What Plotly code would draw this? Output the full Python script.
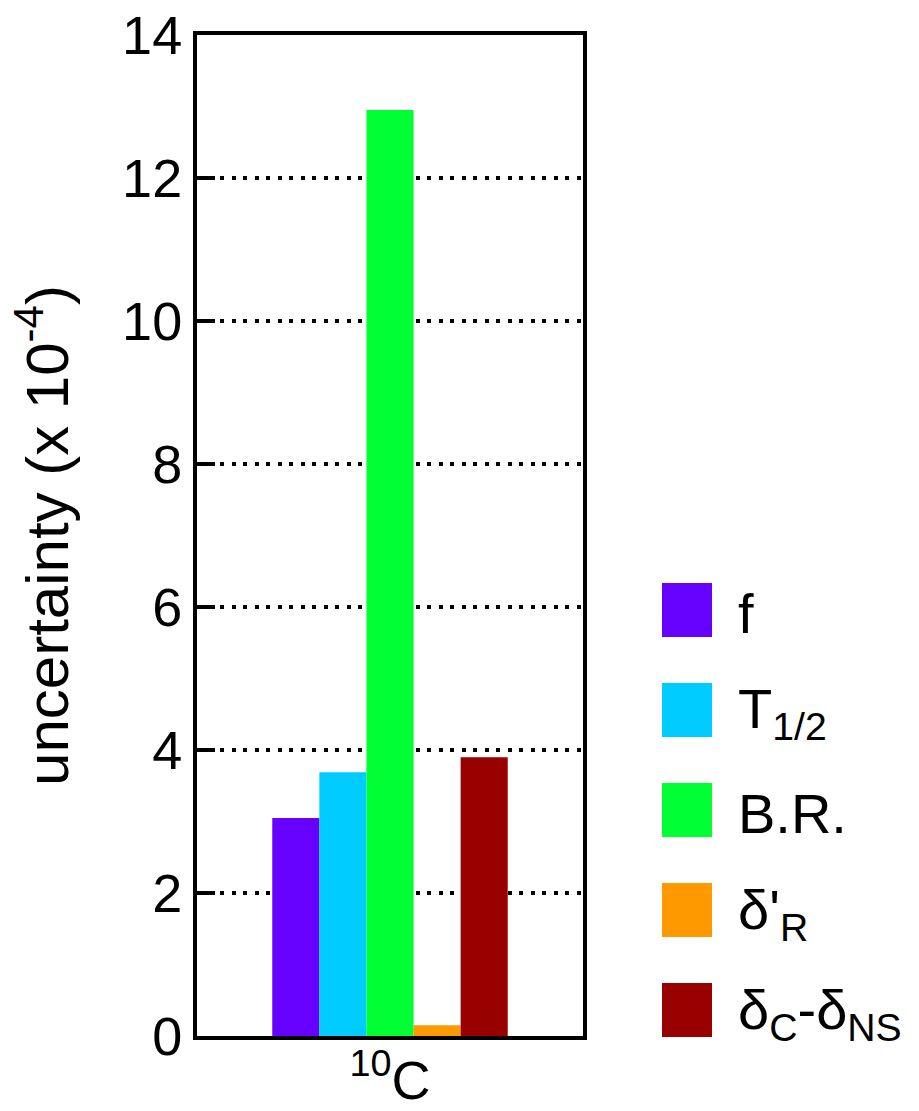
import plotly.graph_objects as go

# ---- data ----
category = ["<sup>10</sup>C"]
series_names = ["f", "T<sub>1/2</sub>", "B.R.", "δ'<sub>R</sub>", "δ<sub>C</sub>-δ<sub>NS</sub>"]
series_values = [3.05, 3.69, 12.95, 0.15, 3.9]
series_colors = ["#6600ff", "#00ccff", "#00ff33", "#ff9900", "#990000"]
y_ticks = [0, 2, 4, 6, 8, 10, 12, 14]
y_title = "uncertainty (x 10<sup>-4</sup>)"

# ---- layout geometry ----
# body margin is removed by the post_script, so figure coordinates = screen coordinates
OFF = 0
W, H = 919 - OFF, 1111 - OFF
PL, PR, PT, PB = 197, 583, 35, 1036          # plot area edges in screen pixels
L, R, T, B = PL - OFF, W - (PR - OFF), PT - OFF, H - (PB - OFF)
PW, PH = W - L - R, H - T - B
FONT = "Liberation Sans, Arial, Helvetica, sans-serif"


def px_x(sx):
    return (sx - OFF - L) / PW


def px_y(sy):
    return (H - B - (sy - OFF)) / PH


fig = go.Figure()
for name, val, col in zip(series_names, series_values, series_colors):
    fig.add_trace(go.Bar(x=category, y=[val], name=name, marker_color=col,
                         marker_line_width=0, showlegend=False))

# manual legend with large square swatches
shapes = []
annotations = []
row0, row_step = 610, 100
for i, (name, col) in enumerate(zip(series_names, series_colors)):
    cy = row0 + i * row_step
    shapes.append(dict(type="rect", xref="paper", yref="paper",
                       x0=px_x(662), x1=px_x(712), y0=px_y(cy + 27), y1=px_y(cy - 27),
                       fillcolor=col, line=dict(width=0)))
    annotations.append(dict(xref="paper", yref="paper", x=px_x(736), y=px_y(cy + 3),
                            xanchor="left", yanchor="middle", text=name, showarrow=False,
                            font=dict(family=FONT, size=56, color="black")))

fig.update_layout(
    width=W, height=H,
    margin=dict(l=L, r=R, t=T, b=B, autoexpand=False),
    paper_bgcolor="white", plot_bgcolor="white",
    barmode="group", bargap=0.39, bargroupgap=0,
    showlegend=False,
    font=dict(family=FONT, color="black"),
    shapes=shapes, annotations=annotations,
    xaxis=dict(showline=True, linecolor="black", linewidth=4, mirror=True, automargin=False,
               ticks="", showgrid=False, ticklabeloverflow="allow", ticklabelstandoff=-6,
               tickfont=dict(size=54, family=FONT)),
    yaxis=dict(range=[0, 14], tickvals=y_ticks, showgrid=True, gridcolor="black",
               griddash="4px,7.5px", gridwidth=3.5, zeroline=False, automargin=False,
               ticks="inside", ticklen=18, tickwidth=4, tickcolor="black",
               showline=True, linecolor="black", linewidth=4, mirror=True,
               ticklabeloverflow="allow",
               tickfont=dict(size=54, family=FONT),
               title=dict(text=y_title, font=dict(size=60, family=FONT), standoff=35)),
)

fig.write_html("out.html", config={"displayModeBar": False},
               post_script="document.body.style.margin='0';document.body.style.overflow='hidden';")
